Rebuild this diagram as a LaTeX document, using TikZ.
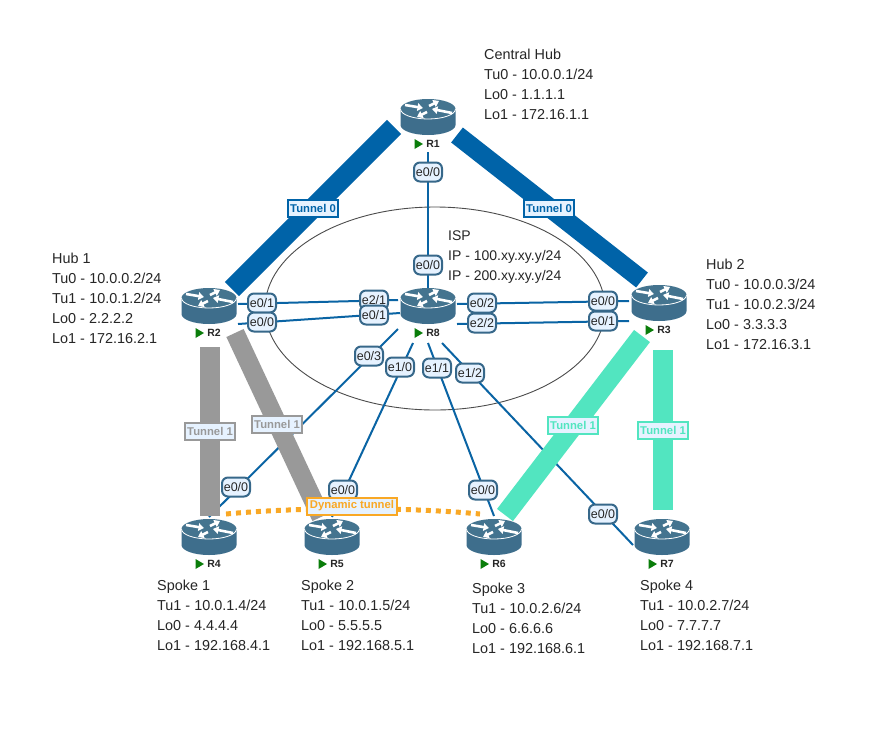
\documentclass[tikz,border=0pt]{standalone}
\usepackage{fontspec}
\setmainfont{Liberation Sans}
\usetikzlibrary{arrows.meta,shapes.geometric}
\definecolor{tunblue}{HTML}{0063A8}
\definecolor{tungrey}{HTML}{999999}
\definecolor{tungreen}{HTML}{52E5C0}
\definecolor{tunorange}{HTML}{F9A825}
\definecolor{linkblue}{HTML}{0A64A4}
\definecolor{rbody}{HTML}{3E6E8C}
\definecolor{rtop}{HTML}{44748F}
\definecolor{lblfill}{HTML}{E6F2FF}
\definecolor{lbledge}{HTML}{37688A}
\definecolor{playgreen}{HTML}{0A7D0A}
\tikzset{
  x=1pt,y=-1pt,
  link/.style={draw=linkblue,line width=2pt},
  band/.style={line width=#1,line cap=butt},
  port/.style={draw=lbledge,fill=lblfill,line width=2pt,rounded corners=6pt,minimum width=28pt,minimum height=19pt,inner sep=0pt,text=black!85,font=\fontsize{12.5}{13}\selectfont},
  tun/.style={draw=#1,fill=lblfill,line width=2pt,minimum height=17pt,inner sep=2.5pt,text=#1,font=\bfseries\fontsize{11.3}{12}\selectfont},
  info/.style={anchor=west,inner sep=0pt,align=left,text=black!85,font=\fontsize{14.4}{20}\selectfont},
  rlabel/.style={inner sep=0pt,text=black!85,font=\bfseries\fontsize{10.5}{12}\selectfont},
  rarrow/.style={draw=white,line width=2.6pt,-{Triangle[width=7.5pt,length=5.5pt]}},
}
\newcommand{\rtr}[4]{%
  \node[coordinate] (#1) at (#2,#3) {};
  \begin{scope}[shift={(#2,#3)}]
    \fill[rbody] (-27.5,0) -- (-27.5,16) arc[start angle=180,end angle=0,x radius=27.5,y radius=10] -- (27.5,0) -- cycle;
    \fill[rtop] (0,0) ellipse[x radius=27.5,y radius=10];
    \draw[white,line width=0.8pt] (-27.5,0) arc[start angle=180,end angle=0,x radius=27.5,y radius=10];
    \draw[rarrow] (-23,-4) -- (-5,-1);
    \draw[rarrow] (1,-3) -- (11,-8);
    \draw[rarrow] (24,4) -- (4,0);
    \draw[rarrow] (-1,3) -- (-11,8);
    \fill[playgreen] (-13.5,30) -- (-5,35) -- (-13.5,40) -- cycle;
    \node[rlabel] (#1t) at (5,35) {#4};
  \end{scope}}
\begin{document}
\begin{tikzpicture}
\useasboundingbox (0,0) rectangle (885,745);
\fill[white] (0,0) rectangle (885,745);
\node[ellipse,draw=black!70,line width=0.9pt,minimum width=340pt,minimum height=203pt,inner sep=0pt] (isp) at (435,308.5) {};
% connector ends
\foreach \n/\x/\y in {a1/428/152,a2/428/288,b1/238/304,b2/398/300,c1/238/324,c2/400/313,
  d1/457/304,d2/629/301,e1/457/324,e2/629/321,f1/398/329,f2/209/517,g1/413/343,g2/332/517,
  h1/428/343,h2/494/516,i1/442/343,i2/633/545,
  j1/394/127,j2/232/289,k1/457/135,k2/642/280,l1/210/347,l2/210/516,m1/235/333,m2/321/517,
  n1/642/336,n2/505/515,o1/663/350,o2/663/510,p1/226/514,p2/480/514}
  {\coordinate (\n) at (\x,\y);}
% thin links
\draw[link] (a1) -- (a2);
\draw[link] (b1) -- (b2);
\draw[link] (c1) -- (c2);
\draw[link] (d1) -- (d2);
\draw[link] (e1) -- (e2);
\draw[link] (f1) -- (f2);
\draw[link] (g1) -- (g2);
\draw[link] (h1) -- (h2);
\draw[link] (i1) -- (i2);
% tunnels
\draw[tunblue,band=20pt] (j1) -- (j2);
\draw[tunblue,band=19pt] (k1) -- (k2);
\draw[tungrey,band=20pt] (l1) -- (l2);
\draw[tungrey,band=19pt] (m1) -- (m2);
\draw[tungreen,band=20pt] (n1) -- (n2);
\draw[tungreen,band=20pt] (o1) -- (o2);
\draw[tunorange,line width=5pt,dash pattern=on 5pt off 5pt] (p1) .. controls (300,507) and (406,507) .. (p2);
% routers
\rtr{R1}{428}{109}{R1}
\rtr{R2}{209}{298}{R2}
\rtr{R8}{428}{298}{R8}
\rtr{R3}{659}{295}{R3}
\rtr{R4}{209}{529}{R4}
\rtr{R5}{332}{529}{R5}
\rtr{R6}{494}{529}{R6}
\rtr{R7}{662}{529}{R7}
% port labels
\node[port] (p01) at (428,172) {e0/0};
\node[port] (p02) at (428,265) {e0/0};
\node[port] (p03) at (262,303) {e0/1};
\node[port] (p04) at (262,322) {e0/0};
\node[port] (p05) at (374,300) {e2/1};
\node[port] (p06) at (374,315) {e0/1};
\node[port] (p07) at (482,303) {e0/2};
\node[port] (p08) at (482,323) {e2/2};
\node[port] (p09) at (603,301) {e0/0};
\node[port] (p10) at (603,321) {e0/1};
\node[port] (p11) at (369,356) {e0/3};
\node[port] (p12) at (400,367) {e1/0};
\node[port] (p13) at (437,368) {e1/1};
\node[port] (p14) at (470,373) {e1/2};
\node[port] (p15) at (236,487) {e0/0};
\node[port] (p16) at (343,490) {e0/0};
\node[port] (p17) at (483,490) {e0/0};
\node[port] (p18) at (603,514) {e0/0};
% tunnel labels
\node[tun=tunblue] (t1) at (313,208) {Tunnel 0};
\node[tun=tunblue] (t2) at (549,208) {Tunnel 0};
\node[tun=tungrey] (t3) at (210,431) {Tunnel 1};
\node[tun=tungrey] (t4) at (277,424) {Tunnel 1};
\node[tun=tungreen] (t5) at (573,425) {Tunnel 1};
\node[tun=tungreen] (t6) at (663,430) {Tunnel 1};
\node[tun=tunorange] (t7) at (352,506) {Dynamic tunnel};
% info
\node[info] (i1t) at (484,84) {Central Hub\\Tu0 - 10.0.0.1/24\\Lo0 - 1.1.1.1\\Lo1 - 172.16.1.1};
\node[info] (i2t) at (52,298) {Hub 1\\Tu0 - 10.0.0.2/24\\Tu1 - 10.0.1.2/24\\Lo0 - 2.2.2.2\\Lo1 - 172.16.2.1};
\node[info] (i3t) at (706,304) {Hub 2\\Tu0 - 10.0.0.3/24\\Tu1 - 10.0.2.3/24\\Lo0 - 3.3.3.3\\Lo1 - 172.16.3.1};
\node[info,font=\fontsize{14}{20}\selectfont] (i4t) at (448,257) {ISP\\IP - 100.xy.xy.y/24\\IP - 200.xy.xy.y/24};
\node[info] (i5t) at (157,615) {Spoke 1\\Tu1 - 10.0.1.4/24\\Lo0 - 4.4.4.4\\Lo1 - 192.168.4.1};
\node[info] (i6t) at (301,615) {Spoke 2\\Tu1 - 10.0.1.5/24\\Lo0 - 5.5.5.5\\Lo1 - 192.168.5.1};
\node[info] (i7t) at (472,618) {Spoke 3\\Tu1 - 10.0.2.6/24\\Lo0 - 6.6.6.6\\Lo1 - 192.168.6.1};
\node[info] (i8t) at (640,615) {Spoke 4\\Tu1 - 10.0.2.7/24\\Lo0 - 7.7.7.7\\Lo1 - 192.168.7.1};
\end{tikzpicture}
\end{document}
